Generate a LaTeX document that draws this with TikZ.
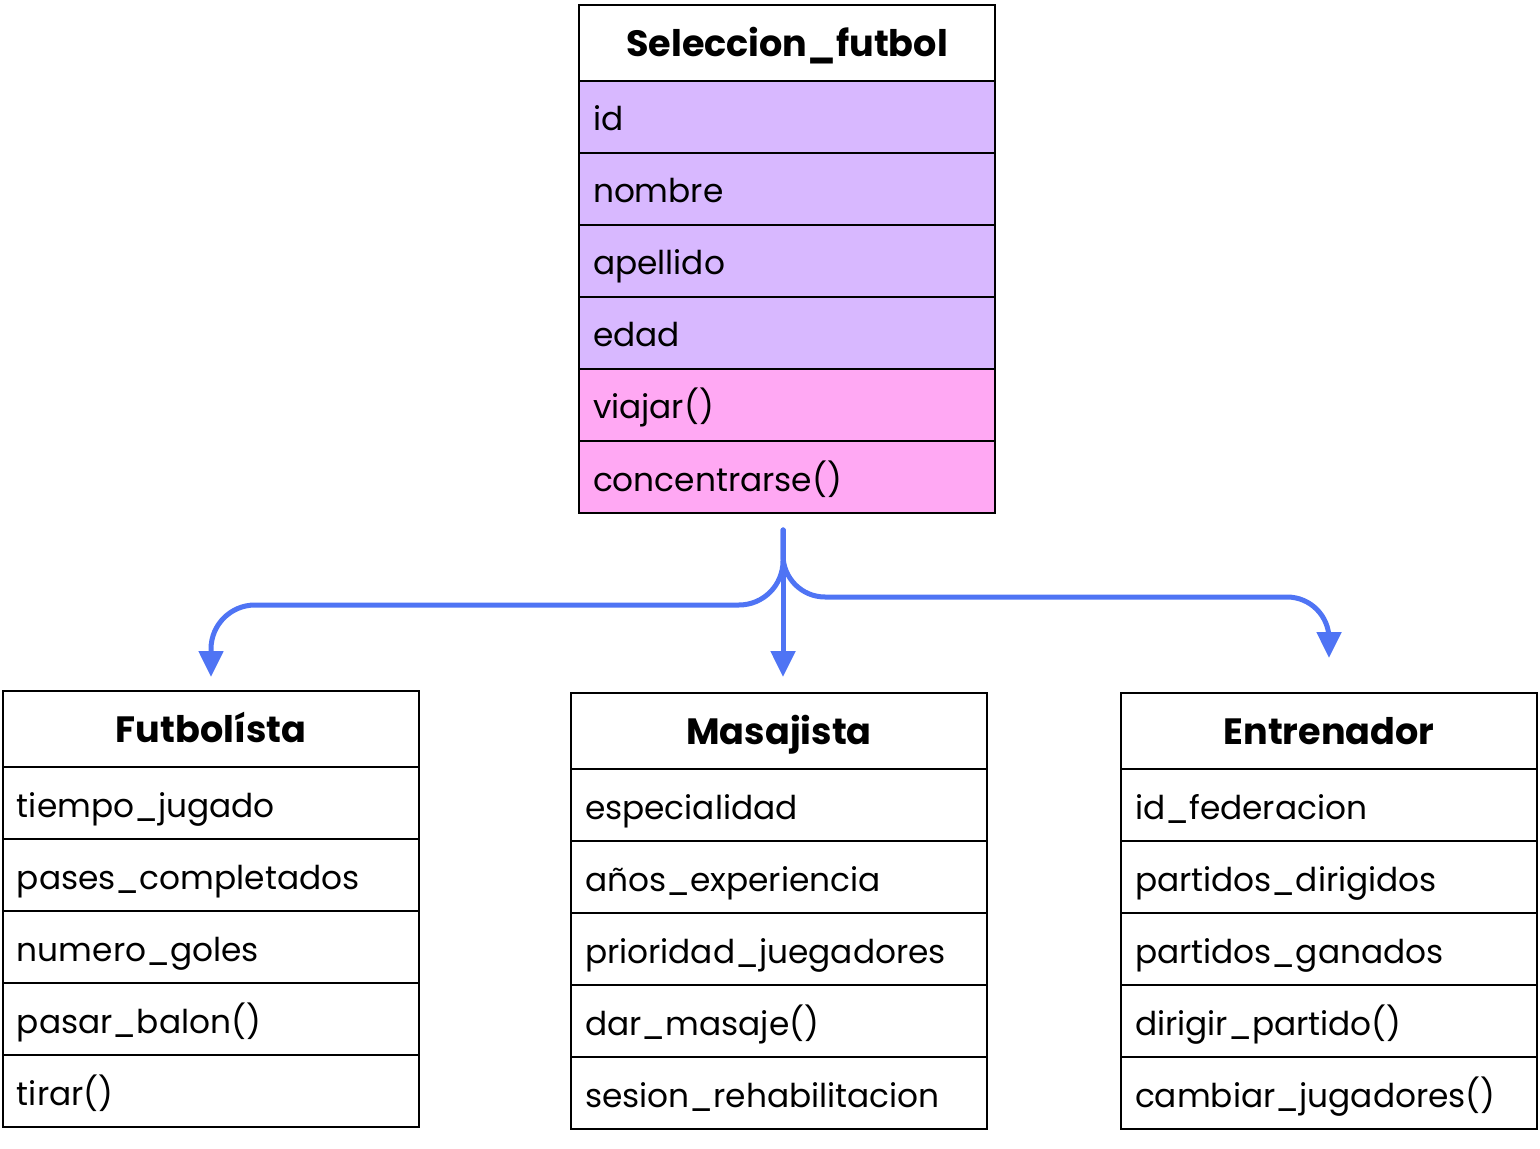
\documentclass[tikz,border=0pt]{standalone}
\usepackage{fontspec}
\setmainfont{Poppins}
\usetikzlibrary{arrows.meta,positioning}

\definecolor{attrfill}{HTML}{D8B8FF}
\definecolor{methfill}{HTML}{FFA8F3}
\definecolor{linkblue}{HTML}{4F74F4}

\begin{document}
\begin{tikzpicture}[
  x=0.5pt, y=-0.5pt,
  font=\fontsize{16.4}{19}\selectfont,
  node distance=0pt,
  >={Triangle[length=13pt,width=12pt]},
  head/.style={
    rectangle, draw=black, line width=1pt, fill=white, outer sep=0pt,
    minimum width=208pt, minimum height=38pt, inner sep=0pt,
    text height=15pt, text depth=1.5pt,
    font=\fontsize{18.3}{21}\selectfont\bfseries},
  field/.style={
    rectangle, draw=black, line width=1pt, fill=white, outer sep=0pt,
    text width=194pt, inner xsep=7pt, inner ysep=0pt, minimum height=36pt,
    align=left, text height=16pt, text depth=2pt},
  attr/.style={field, fill=attrfill},
  meth/.style={field, fill=methfill},
  inh/.style={->, draw=linkblue, line width=2.5pt, line cap=round},
]
\useasboundingbox (0,0) rectangle (1540,1149);

% ---- Parent class ----
\node[head, anchor=north west] (sel) at (579,5) {Seleccion\_futbol};
\node[attr, below=of sel] (sel1) {id};
\node[attr, below=of sel1] (sel2) {nombre};
\node[attr, below=of sel2] (sel3) {apellido};
\node[attr, below=of sel3] (sel4) {edad};
\node[meth, below=of sel4] (sel5) {viajar()};
\node[meth, below=of sel5] (sel6) {concentrarse()};

% ---- Child classes ----
\node[head, anchor=north west] (masa) at (571,693) {Masajista};
\node[field, below=of masa] (masa1) {especialidad};
\node[field, below=of masa1] (masa2) {años\_experiencia};
\node[field, below=of masa2] (masa3) {prioridad\_juegadores};
\node[field, below=of masa3] (masa4) {dar\_masaje()};
\node[field, below=of masa4] (masa5) {sesion\_rehabilitacion};

\node[head, left=76pt of masa, yshift=1pt] (futb) {Futbolísta};
\node[field, below=of futb] (futb1) {tiempo\_jugado};
\node[field, below=of futb1] (futb2) {pases\_completados};
\node[field, below=of futb2] (futb3) {numero\_goles};
\node[field, below=of futb3] (futb4) {pasar\_balon()};
\node[field, below=of futb4] (futb5) {tirar()};

\node[head, right=67pt of masa] (entr) {Entrenador};
\node[field, below=of entr] (entr1) {id\_federacion};
\node[field, below=of entr1] (entr2) {partidos\_dirigidos};
\node[field, below=of entr2] (entr3) {partidos\_ganados};
\node[field, below=of entr3] (entr4) {dirigir\_partido()};
\node[field, below=of entr4] (entr5) {cambiar\_jugadores()};

% ---- Inheritance arrows ----
\coordinate (fork) at (783,530);
\coordinate (lbend) at (783,605);
\coordinate (rbend) at (783,597);

\draw[inh, rounded corners=22pt, shorten >=7pt] (fork) -- (lbend) -| (futb.north);
\draw[inh, shorten >=8pt] (fork) -- (fork |- masa.north);
\draw[inh, rounded corners=21pt, shorten >=17.5pt] (fork) -- (rbend) -| (entr.north);

\end{tikzpicture}
\end{document}
